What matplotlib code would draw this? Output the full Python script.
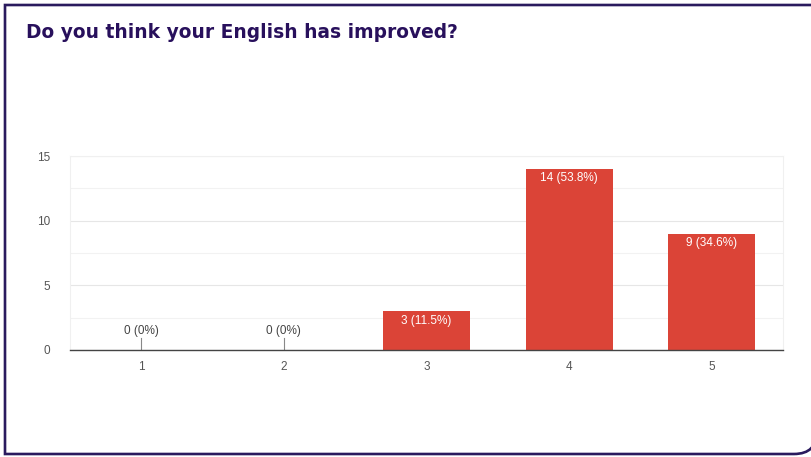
import matplotlib.pyplot as plt
from matplotlib.patches import PathPatch
from matplotlib.path import Path
import numpy as np

# survey answers (scale 1-5), number of responses and share
categories = ['1', '2', '3', '4', '5']
counts = [0, 0, 3, 14, 9]
percents = ['0%', '0%', '11.5%', '53.8%', '34.6%']

plt.rcParams['font.family'] = ['Liberation Sans', 'DejaVu Sans']

fig = plt.figure(figsize=(8.12, 4.57), dpi=100)

# outer purple frame, square corners except the rounded bottom-right one
verts = [(830, 452), (5, 452), (5, 3), (794, 3), (817, 3), (817, 26), (817, 470)]
codes = [Path.MOVETO, Path.LINETO, Path.LINETO, Path.LINETO, Path.CURVE3, Path.CURVE3, Path.LINETO]
frame = PathPatch(Path(verts, codes), transform=None, fill=False,
                  edgecolor='#2a1a5e', linewidth=1.9)
fig.patches.append(frame)

fig.text(26 / 812, 1 - 32 / 457, 'Do you think your English has improved?',
         family='DejaVu Sans', fontweight='bold', fontsize=13.4, color='#28105c',
         va='center', ha='left')

ax = fig.add_axes([70 / 812, 107 / 457, 713 / 812, 194 / 457])
x = np.arange(len(categories))
bars = ax.bar(x, counts, width=0.61, color='#db4437', zorder=3)

ax.set_xlim(-0.5, len(categories) - 0.5)
ax.set_ylim(0, 15)
ax.set_yticks([0, 5, 10, 15])
ax.set_yticks([2.5, 7.5, 12.5], minor=True)
ax.set_xticks(x)
ax.set_xticklabels(categories)
ax.grid(axis='y', which='major', color='#e6e6e6', linewidth=0.8, zorder=0)
ax.grid(axis='y', which='minor', color='#f2f2f2', linewidth=0.8, zorder=0)
ax.tick_params(axis='both', which='both', length=0, labelsize=8.5, colors='#555555')
ax.tick_params(axis='y', pad=14)
ax.tick_params(axis='x', pad=8)
for side in ['left', 'right', 'top']:
    ax.spines[side].set_color('#f0f0f0')
    ax.spines[side].set_linewidth(0.8)
ax.spines['bottom'].set_color('#444444')
ax.spines['bottom'].set_linewidth(1.0)
ax.spines['bottom'].set_zorder(4)

for xi, c, p in zip(x, counts, percents):
    label = '%d (%s)' % (c, p)
    if c > 0:
        ax.annotate(label, (xi, c), xytext=(0, -2.5), textcoords='offset points',
                    ha='center', va='top', color='white', fontsize=8.5, zorder=5)
    else:
        ax.plot([xi, xi], [0, 0.9], color='#888888', linewidth=0.8, zorder=4)
        ax.annotate(label, (xi, 0.9), xytext=(0, 1), textcoords='offset points',
                    ha='center', va='bottom', color='#444444', fontsize=8.5, zorder=5)

fig.savefig('out.png', dpi=100)
